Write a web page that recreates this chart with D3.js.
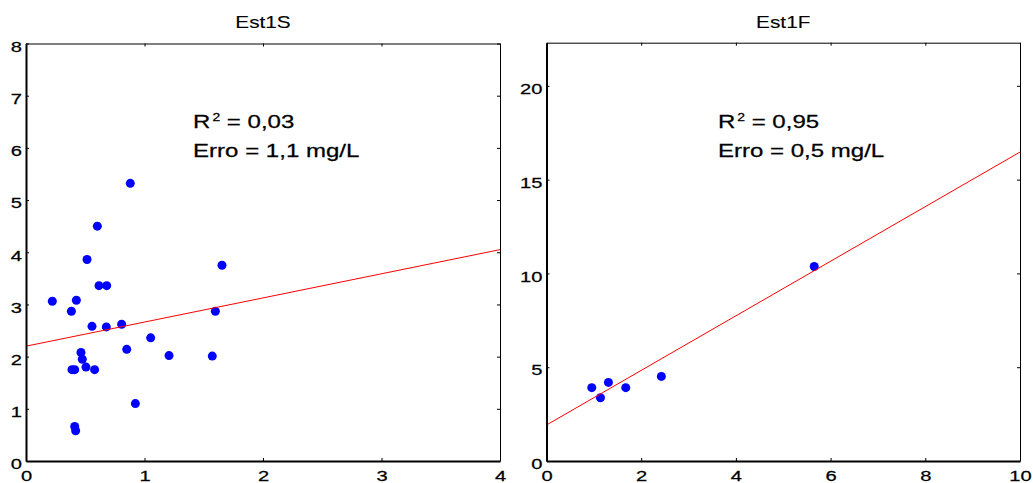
<!DOCTYPE html>
<html>
<head>
<meta charset="utf-8">
<script src="https://cdn.jsdelivr.net/npm/d3@7"></script>
<style>
  html, body { margin: 0; padding: 0; background: #fff; }
  svg { display: block; }
  text { font-family: "Liberation Sans", Arial, Helvetica, sans-serif; fill: #000; stroke: #000; stroke-width: 0.25px; }
</style>
</head>
<body>
<svg id="chart" width="1033" height="483"></svg>
<script>
// ---- Est1S: measured vs estimated concentration ----
const est1sX = [0.222, 0.383, 0.425, 0.515, 0.602, 0.616, 0.681, 0.880, 1.654, 0.557, 0.678, 0.807, 1.598,
                1.052, 0.850, 1.207, 1.572, 0.464, 0.475, 0.506, 0.388, 0.411, 0.579, 0.923, 0.411, 0.419];
const est1sY = [3.06, 2.87, 3.08, 3.86, 4.50, 3.36, 3.36, 5.32, 3.75, 2.58, 2.57, 2.62, 2.87,
                2.36, 2.14, 2.02, 2.01, 2.08, 1.95, 1.80, 1.75, 1.75, 1.75, 1.10, 0.66, 0.58];
const est1sFit = [2.20, 0.4625];          // intercept, slope
const est1sXTicks = [0, 1, 2, 3, 4];
const est1sYTicks = [0, 1, 2, 3, 4, 5, 6, 7, 8];
const est1sStats = ["0,03", "1,1"];       // R², erro (mg/L)

// ---- Est1F ----
const est1fX = [0.956, 1.139, 1.308, 1.674, 2.426, 5.654];
const est1fY = [3.91, 3.37, 4.19, 3.91, 4.51, 10.37];
const est1fFit = [1.92, 1.455];
const est1fXTicks = [0, 2, 4, 6, 8, 10];
const est1fYTicks = [0, 5, 10, 15, 20];
const est1fStats = ["0,95", "0,5"];

const svg = d3.select("#chart");
const SX = 1.3;   // horizontal stretch of all lettering
const fmt = d3.format("d");

// Move a text's x/y into a transform so the glyphs can be widened around their anchor
function stretch(sel) {
  sel.each(function () {
    const t = d3.select(this);
    const x = +t.attr("x") || 0, y = +t.attr("y") || 0;
    t.attr("transform", `translate(${x},${y}) scale(${SX},1)`).attr("x", 0).attr("y", 0);
  });
}

function panel(o) {
  const x = d3.scaleLinear().domain(o.xDomain).range([o.left, o.right]);
  const y = d3.scaleLinear().domain(o.yDomain).range([o.bottom, o.top]);
  const g = svg.append("g");

  // box: ticks along the top and right edges, pointing inward
  const top = g.append("g").attr("transform", `translate(0,${o.top})`)
    .call(d3.axisTop(x).tickValues(o.xTicks).tickSizeInner(-3).tickSizeOuter(0).tickFormat(""));
  const right = g.append("g").attr("transform", `translate(${o.right},0)`)
    .call(d3.axisRight(y).tickValues(o.yTicks).tickSizeInner(-3).tickSizeOuter(0).tickFormat(""));
  [top, right].forEach(a => { a.selectAll("text").remove(); a.select(".domain").attr("stroke-width", 1); });

  // data points
  g.append("g").selectAll("circle")
    .data(o.xs.map((v, i) => [v, o.ys[i]]))
    .join("circle")
    .attr("cx", d => x(d[0]))
    .attr("cy", d => y(d[1]))
    .attr("r", 4.5)
    .attr("fill", "#0000ff");

  // fitted line across the x range
  const fitLine = d3.line().x(d => x(d)).y(d => y(o.fit[0] + o.fit[1] * d));
  g.append("path")
    .attr("d", fitLine(o.xDomain))
    .attr("fill", "none")
    .attr("stroke", "#ff0000")
    .attr("stroke-width", 1);

  const xa = g.append("g").attr("transform", `translate(0,${o.bottom})`)
    .call(d3.axisBottom(x).tickValues(o.xTicks).tickFormat(fmt).tickSizeInner(-3).tickSizeOuter(0).tickPadding(9));
  const ya = g.append("g").attr("transform", `translate(${o.left},0)`)
    .call(d3.axisLeft(y).tickValues(o.yTicks).tickFormat(fmt).tickSizeInner(-3).tickSizeOuter(0).tickPadding(4));

  [xa, ya].forEach(a => {
    a.attr("font-size", null).attr("font-family", null);
    a.select(".domain").attr("stroke-width", 2);
    a.selectAll("text").style("font-size", "15.5px");
  });
  ya.selectAll("text").attr("dy", "0.5em");
  stretch(xa.selectAll("text"));
  stretch(ya.selectAll("text"));

  // title
  g.append("text")
    .attr("x", (o.left + o.right) / 2)
    .attr("y", 27.5)
    .attr("text-anchor", "middle")
    .style("font-size", "16px")
    .style("stroke-width", "0.1px")
    .text(o.title)
    .call(stretch);

  // statistics
  const ann = g.append("text")
    .attr("x", x(o.note[0]))
    .attr("y", y(o.note[1]))
    .style("font-size", "18.5px");
  ann.append("tspan").text("R");
  ann.append("tspan").attr("dx", 1.5).attr("dy", -6.8).style("font-size", "10.7px").text("2");
  ann.append("tspan").attr("dy", 6.8).text(" = " + o.stats[0]);
  ann.append("tspan").attr("x", 0).attr("dy", 29).text("Erro = " + o.stats[1] + " mg/L");
  stretch(ann);
}

panel({
  title: "Est1S",
  xs: est1sX, ys: est1sY, fit: est1sFit, stats: est1sStats,
  xDomain: [0, 4], yDomain: [0, 8],
  xTicks: est1sXTicks, yTicks: est1sYTicks,
  left: 26, right: 500, top: 43.5, bottom: 461,
  note: [1.41, 6.38]
});

panel({
  title: "Est1F",
  xs: est1fX, ys: est1fY, fit: est1fFit, stats: est1fStats,
  xDomain: [0, 10], yDomain: [0, 22.3],
  xTicks: est1fXTicks, yTicks: est1fYTicks,
  left: 546.5, right: 1020, top: 42.7, bottom: 461,
  note: [3.62, 17.76]
});
</script>
</body>
</html>
